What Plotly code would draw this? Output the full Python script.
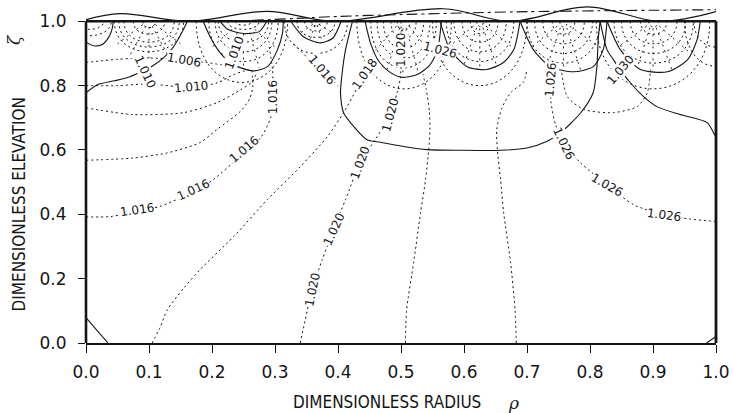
import plotly.graph_objects as go

# ---------------- data (rho, zeta) ----------------
# free-surface wave (solid) and reference dash-dot line above the top
wave_rho = [-0.01, 0.054, 0.161, 0.288, 0.393, 0.567, 0.673, 0.796, 0.911, 1.0]
wave_zeta = [1.0, 1.024, 1.0, 1.031, 1.0, 1.039, 1.0, 1.045, 1.0, 1.03]
dash_rho = [0.16, 0.25, 0.40, 0.50, 0.70, 1.0]
dash_zeta = [1.0, 1.002, 1.015, 1.021, 1.03, 1.036]

# solid contours
s1_rho = [0.0, 0.012, 0.025, 0.036, 0.042, 0.043]
s1_zeta = [0.935, 0.924, 0.927, 0.95, 0.98, 1.0]
s2_rho = [0.0, 0.018, 0.045, 0.066, 0.087, 0.105, 0.125, 0.139, 0.153, 0.161]
s2_zeta = [0.778, 0.803, 0.815, 0.825, 0.843, 0.86, 0.89, 0.921, 0.968, 1.0]
c2_rho = [0.186, 0.197, 0.213, 0.234, 0.266, 0.288, 0.304, 0.312, 0.313]
c2_zeta = [1.0, 0.952, 0.902, 0.865, 0.846, 0.859, 0.912, 0.965, 1.0]
c2b_rho = [0.213, 0.225, 0.25, 0.275, 0.287]
c2b_zeta = [1.0, 0.975, 0.962, 0.968, 1.0]
c3_rho = [0.325, 0.345, 0.372, 0.392, 0.405]
c3_zeta = [1.0, 0.952, 0.933, 0.948, 1.0]
s5_rho = [0.423, 0.412, 0.406, 0.404, 0.409, 0.425, 0.446, 0.467, 0.504, 0.541,
          0.594, 0.658, 0.700, 0.732, 0.753, 0.785, 0.805, 0.811, 0.813, 0.816]
s5_zeta = [1.0, 0.912, 0.829, 0.777, 0.715, 0.673, 0.632, 0.624, 0.611, 0.601,
           0.599, 0.599, 0.606, 0.627, 0.653, 0.715, 0.778, 0.86, 0.943, 1.0]
c4_rho = [0.443, 0.452, 0.465, 0.48, 0.50, 0.525, 0.545, 0.558, 0.564]
c4_zeta = [1.0, 0.93, 0.875, 0.845, 0.826, 0.834, 0.862, 0.91, 1.0]
c5_rho = [0.562, 0.578, 0.605, 0.636, 0.662, 0.679, 0.689]
c5_zeta = [1.0, 0.912, 0.859, 0.85, 0.871, 0.912, 1.0]
c6_rho = [0.689, 0.710, 0.737, 0.774, 0.805, 0.821, 0.827]
c6_zeta = [1.0, 0.912, 0.859, 0.843, 0.859, 0.912, 1.0]
c7_rho = [0.827, 0.848, 0.880, 0.923, 0.955, 0.970, 0.975]
c7_zeta = [1.0, 0.912, 0.85, 0.843, 0.881, 0.943, 1.0]
s30_rho = [0.816, 0.827, 0.837, 0.864, 0.885, 0.907, 0.943, 0.986, 0.996, 1.0]
s30_zeta = [1.0, 0.912, 0.881, 0.809, 0.766, 0.734, 0.710, 0.685, 0.654, 0.64]
cbl_rho = [0.0, 0.015, 0.035]
cbl_zeta = [0.079, 0.045, 0.0]
cbr_rho = [0.985, 1.0]
cbr_zeta = [0.0, 0.02]

# dotted contours
da_rho = [0.0, 0.05, 0.10, 0.155, 0.19, 0.225]
da_zeta = [0.872, 0.882, 0.886, 0.88, 0.872, 0.862]
db_rho = [0.0, 0.05, 0.097, 0.166, 0.209, 0.234, 0.258]
db_zeta = [0.80, 0.80, 0.805, 0.795, 0.809, 0.834, 0.85]
dc_rho = [0.0, 0.075, 0.155, 0.208, 0.245, 0.262, 0.27]
dc_zeta = [0.731, 0.71, 0.716, 0.747, 0.787, 0.809, 0.835]
lup_rho = [0.0, 0.075, 0.129, 0.181, 0.208, 0.245, 0.26, 0.265, 0.263]
lup_zeta = [0.568, 0.575, 0.591, 0.623, 0.664, 0.72, 0.76, 0.80, 0.845]
llow_rho = [0.0, 0.039, 0.081, 0.118, 0.17, 0.202, 0.25, 0.278, 0.293, 0.297, 0.296, 0.29]
llow_zeta = [0.392, 0.393, 0.41, 0.425, 0.47, 0.508, 0.59, 0.64, 0.70, 0.764, 0.85, 0.93]
b1_rho = [0.105, 0.118, 0.129, 0.155, 0.181, 0.234, 0.288, 0.34, 0.383, 0.41, 0.43, 0.447, 0.46]
b1_zeta = [0.0, 0.05, 0.103, 0.17, 0.228, 0.33, 0.446, 0.548, 0.641, 0.72, 0.79, 0.84, 0.875]
b2_rho = [0.34, 0.348, 0.359, 0.375, 0.393, 0.412, 0.435, 0.459, 0.483, 0.494, 0.499, 0.50, 0.50]
b2_zeta = [0.0, 0.072, 0.166, 0.259, 0.352, 0.446, 0.56, 0.632, 0.709, 0.78, 0.824, 0.9, 1.0]
b3_rho = [0.507, 0.509, 0.52, 0.531, 0.539, 0.544, 0.546, 0.545, 0.54, 0.535]
b3_zeta = [0.0, 0.104, 0.249, 0.404, 0.508, 0.601, 0.663, 0.72, 0.79, 0.835]
b4_rho = [0.683, 0.681, 0.674, 0.663, 0.658, 0.653, 0.652, 0.66, 0.675, 0.694, 0.70]
b4_zeta = [0.0, 0.104, 0.249, 0.404, 0.508, 0.601, 0.663, 0.73, 0.78, 0.81, 0.85]
r1_rho = [1.0, 0.96, 0.917, 0.869, 0.827, 0.785, 0.758, 0.745, 0.738, 0.737, 0.737]
r1_zeta = [0.378, 0.385, 0.399, 0.43, 0.492, 0.56, 0.622, 0.68, 0.75, 0.819, 0.85]
r2_rho = [0.755, 0.764, 0.79, 0.837, 0.875, 0.891, 0.896]
r2_zeta = [0.84, 0.766, 0.726, 0.716, 0.735, 0.778, 0.85]
dm_rho = [0.33, 0.355, 0.375, 0.39, 0.40]
dm_zeta = [0.93, 0.88, 0.85, 0.82, 0.80]

# dotted arcs hanging from the surface: left end, right end, lowest elevation
arc_left = [-0.03, -0.015, 0.045, 0.052, 0.06, 0.075, 0.09, 0.195, 0.205, 0.21, 0.225, 0.237,
            0.175, 0.335, 0.347, 0.358, 0.315, 0.452, 0.462, 0.472, 0.484, 0.494, 0.43,
            0.572, 0.584, 0.597, 0.61, 0.62, 0.55, 0.70, 0.712, 0.725, 0.74, 0.752,
            0.838, 0.85, 0.864, 0.88, 0.893, 0.81, 0.95, 0.965]
arc_right = [0.04, 0.028, 0.155, 0.148, 0.14, 0.125, 0.11, 0.305, 0.295, 0.29, 0.275, 0.263,
             0.32, 0.395, 0.383, 0.372, 0.415, 0.556, 0.546, 0.536, 0.524, 0.514, 0.58,
             0.679, 0.667, 0.654, 0.641, 0.631, 0.70, 0.816, 0.804, 0.791, 0.776, 0.764,
             0.964, 0.952, 0.938, 0.922, 0.909, 0.99, 1.05, 1.035]
arc_bottom = [0.955, 0.975, 0.905, 0.92, 0.935, 0.96, 0.98, 0.875, 0.905, 0.935, 0.975, 0.988,
              0.81, 0.95, 0.97, 0.985, 0.90, 0.855, 0.885, 0.915, 0.945, 0.97, 0.79,
              0.875, 0.905, 0.935, 0.962, 0.984, 0.80, 0.87, 0.90, 0.93, 0.96, 0.983,
              0.87, 0.90, 0.93, 0.96, 0.983, 0.79, 0.86, 0.92]

# short dotted rays fanning inside the surface cells (inner end -> outer end)
fan_rho_in = [0.09, 0.095, 0.10, 0.105, 0.11,
              0.232, 0.24, 0.25, 0.26, 0.268,
              0.36, 0.363, 0.367, 0.37,
              0.493, 0.498, 0.503, 0.508, 0.513,
              0.615, 0.62, 0.625, 0.63, 0.635,
              0.748, 0.753, 0.758, 0.763, 0.768,
              0.89, 0.895, 0.90, 0.905, 0.91]
fan_zeta_in = [0.99, 0.985, 0.983, 0.985, 0.99,
               0.975, 0.965, 0.962, 0.965, 0.975,
               0.99, 0.988, 0.988, 0.99,
               0.985, 0.98, 0.978, 0.98, 0.985,
               0.985, 0.98, 0.978, 0.98, 0.985,
               0.985, 0.98, 0.978, 0.98, 0.985,
               0.985, 0.98, 0.978, 0.98, 0.985]
fan_rho_out = [0.05, 0.07, 0.10, 0.13, 0.15,
               0.20, 0.225, 0.25, 0.275, 0.30,
               0.338, 0.355, 0.375, 0.395,
               0.455, 0.478, 0.503, 0.528, 0.552,
               0.575, 0.60, 0.625, 0.652, 0.676,
               0.707, 0.732, 0.758, 0.785, 0.815,
               0.845, 0.875, 0.90, 0.93, 0.96]
fan_zeta_out = [0.93, 0.895, 0.885, 0.895, 0.93,
                0.92, 0.87, 0.85, 0.855, 0.92,
                0.96, 0.937, 0.937, 0.96,
                0.90, 0.85, 0.83, 0.838, 0.89,
                0.92, 0.865, 0.853, 0.862, 0.92,
                0.92, 0.862, 0.846, 0.85, 0.92,
                0.92, 0.855, 0.846, 0.85, 0.90]

# contour labels
label_text = ["1.010", "1.006", "1.010", "1.010", "1.016", "1.016", "1.018", "1.020",
              "1.026", "1.020", "1.026", "1.030", "1.026", "1.026", "1.026",
              "1.016", "1.016", "1.016", "1.020", "1.020", "1.020"]
label_rho = [0.094, 0.155, 0.166, 0.236, 0.297, 0.375, 0.443, 0.499,
             0.562, 0.483, 0.737, 0.848, 0.758, 0.827, 0.917,
             0.081, 0.170, 0.250, 0.435, 0.393, 0.359]
label_zeta = [0.843, 0.88, 0.795, 0.90, 0.764, 0.85, 0.835, 0.912,
              0.912, 0.709, 0.819, 0.85, 0.622, 0.492, 0.399,
              0.414, 0.477, 0.601, 0.56, 0.352, 0.166]
label_angle = [65, 10, -5, -70, -90, 50, -55, -90,
               15, -75, -85, -50, 65, 30, 8,
               -8, -25, -40, -70, -65, -78]

x_ticks = [0.0, 0.1, 0.2, 0.3, 0.4, 0.5, 0.6, 0.7, 0.8, 0.9, 1.0]
y_ticks = [0.0, 0.2, 0.4, 0.6, 0.8, 1.0]

# ---------------- figure ----------------
INK = "#151515"
fig = go.Figure()


def add_curve(x, y, dash="solid", width=1.1, smooth=0.7):
    fig.add_trace(go.Scatter(
        x=x, y=y, mode="lines", hoverinfo="skip", showlegend=False,
        line=dict(color=INK, width=width, dash=dash, shape="spline", smoothing=smooth)))


DOT = "2px,3px"
for xs, ys in [(s1_rho, s1_zeta), (s2_rho, s2_zeta), (c2_rho, c2_zeta), (c2b_rho, c2b_zeta),
               (c3_rho, c3_zeta), (s5_rho, s5_zeta), (c4_rho, c4_zeta), (c5_rho, c5_zeta),
               (c6_rho, c6_zeta), (c7_rho, c7_zeta), (s30_rho, s30_zeta),
               (cbl_rho, cbl_zeta), (cbr_rho, cbr_zeta)]:
    add_curve(xs, ys)

for xs, ys in [(da_rho, da_zeta), (db_rho, db_zeta), (dc_rho, dc_zeta), (lup_rho, lup_zeta),
               (llow_rho, llow_zeta), (b1_rho, b1_zeta), (b2_rho, b2_zeta), (b3_rho, b3_zeta),
               (b4_rho, b4_zeta), (r1_rho, r1_zeta), (r2_rho, r2_zeta), (dm_rho, dm_zeta)]:
    add_curve(xs, ys, dash=DOT, width=1.0)

add_curve(wave_rho, wave_zeta, width=1.2, smooth=1.0)
add_curve(dash_rho, dash_zeta, dash="11px,4px,3px,4px", width=1.1)

shapes = []
for l, r, b in zip(arc_left, arc_right, arc_bottom):
    c = 1 - (1 - b) * 4.0 / 3.0
    shapes.append(dict(type="path", xref="x", yref="y",
                       path=f"M {l},1 C {l},{c} {r},{c} {r},1",
                       line=dict(color=INK, width=1.0, dash=DOT)))
for x0, y0, x1, y1 in zip(fan_rho_in, fan_zeta_in, fan_rho_out, fan_zeta_out):
    shapes.append(dict(type="line", xref="x", yref="y", x0=x0, y0=y0, x1=x1, y1=y1,
                       line=dict(color=INK, width=0.9, dash="2px,4px")))

# frame
shapes.append(dict(type="line", xref="x", yref="y", x0=0, x1=1, y0=1, y1=1,
                   line=dict(color=INK, width=2.6)))
shapes.append(dict(type="line", xref="paper", yref="y", x0=0, x1=0, y0=0, y1=1,
                   line=dict(color=INK, width=2.6)))
shapes.append(dict(type="line", xref="paper", yref="y", x0=1, x1=1, y0=0, y1=1,
                   line=dict(color=INK, width=2.8)))

annotations = []
for t, xr, yz, ang in zip(label_text, label_rho, label_zeta, label_angle):
    annotations.append(dict(x=xr, y=yz, xref="x", yref="y", text=t, showarrow=False,
                            textangle=ang, bgcolor="white", borderpad=0,
                            font=dict(family="DejaVu Sans", size=12, color=INK)))

TITLE_FONT = dict(family="Liberation Sans Narrow, DejaVu Sans Condensed, sans-serif",
                  size=17, color=INK)
annotations += [
    dict(x=0.4775, y=-0.172, xref="paper", yref="paper", text="DIMENSIONLESS RADIUS",
         xanchor="center", yanchor="middle", showarrow=False, font=TITLE_FONT),
    dict(x=0.678, y=-0.175, xref="paper", yref="paper", text="<i>ρ</i>",
         xanchor="center", yanchor="middle", showarrow=False,
         font=dict(family="DejaVu Serif", size=17, color=INK)),
    dict(x=-0.107, y=0.405, xref="paper", yref="paper", text="DIMENSIONLESS ELEVATION",
         xanchor="center", yanchor="middle", showarrow=False, textangle=-90, font=TITLE_FONT),
    dict(x=-0.115, y=0.89, xref="paper", yref="paper", text="<i>ζ</i>",
         xanchor="center", yanchor="middle", showarrow=False, textangle=-90,
         font=dict(family="DejaVu Serif", size=17, color=INK)),
]

TICK_FONT = dict(family="DejaVu Sans", size=17, color=INK)
fig.update_layout(
    width=733, height=413,
    margin=dict(l=86, r=17, t=2, b=70),
    paper_bgcolor="white", plot_bgcolor="white",
    shapes=shapes, annotations=annotations, showlegend=False,
    xaxis=dict(range=[0, 1], tickvals=x_ticks, ticktext=[f"{v:.1f}" for v in x_ticks],
               ticks="outside", ticklen=8, tickwidth=1.2, tickcolor=INK,
               showline=True, linecolor=INK, linewidth=2.2, showgrid=False, zeroline=False,
               tickfont=TICK_FONT, ticklabelstandoff=4),
    yaxis=dict(range=[0, 1.06], tickvals=y_ticks, ticktext=[f"{v:.1f}" for v in y_ticks],
               ticks="outside", ticklen=7, tickwidth=1.2, tickcolor=INK,
               showline=False, showgrid=False, zeroline=False,
               tickfont=TICK_FONT, ticklabelstandoff=8),
)

fig.write_html("out.html")
